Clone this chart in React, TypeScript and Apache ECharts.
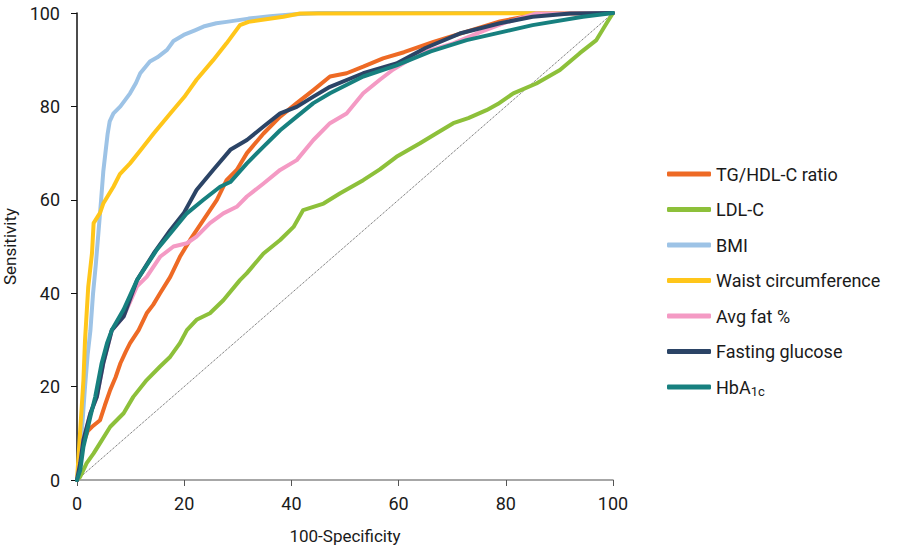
import React, { useEffect, useRef } from "react";
import * as echarts from "echarts";

// ROC curves: [100-Specificity, Sensitivity]
const tgHdl = [
  [0, 0], [0.6, 4], [1.2, 7.9], [2, 10.5], [2.8, 11.4], [4.3, 12.8], [5.2, 16], [6.2, 19.3], [7.2, 22],
  [8.1, 25], [9.1, 27.5], [9.9, 29.3], [11.5, 32.1], [13, 35.7], [14.2, 37.5], [15.5, 40], [17.4, 43.5],
  [19.2, 47.8], [21.1, 51.4], [23.6, 55.7], [26.1, 60], [27.9, 64.2], [29.8, 66.4], [31.7, 70],
  [34.8, 74.2], [37.9, 77.8], [41, 80.7], [44.1, 83.5], [47.2, 86.4], [50.3, 87.1], [53.4, 88.5],
  [57.1, 90.3], [61, 91.6], [66.5, 93.8], [72.7, 96], [78.9, 98.2], [85, 99.5], [90, 99.9], [100, 100],
];
const ldlC = [
  [0, 0], [0.6, 0.7], [1.8, 3.6], [3.1, 5.7], [4.3, 7.9], [6.2, 11.4], [8.7, 14.3], [10.5, 17.8],
  [13, 21.4], [15.5, 24.3], [17.4, 26.4], [19.2, 29.3], [20.5, 32.1], [22.3, 34.3], [24.8, 35.7],
  [27.3, 38.5], [30.4, 42.8], [31.7, 44.3], [34.8, 48.5], [37.9, 51.4], [40.4, 54.2], [42.2, 57.8],
  [46, 59.2], [49.1, 61.4], [53.4, 64.2], [56.5, 66.5], [59.6, 69.2], [64, 72.1], [67, 74.2],
  [70.2, 76.4], [73, 77.5], [76.4, 79.2], [78.5, 80.5], [81.4, 82.8], [85.7, 84.9], [90.1, 87.8],
  [93.8, 91.4], [96.9, 94.2], [98.8, 97.8], [100, 100],
];
const bmi = [
  [0, 0], [0.5, 5], [1, 12], [1.5, 20], [2, 27], [2.5, 32], [3, 40], [3.5, 46], [4, 53], [4.5, 60],
  [4.9, 66], [5.3, 70], [5.7, 74], [6.1, 76.8], [6.8, 78.5], [8.1, 80], [9.9, 82.8], [11, 85],
  [11.8, 87.1], [13.6, 89.6], [15, 90.5], [16.8, 92.1], [18, 94], [19.9, 95.3], [22, 96.3],
  [23.6, 97.1], [26, 97.8], [27.9, 98.1], [32, 98.8], [36, 99.3], [40, 99.7], [45, 100], [100, 100],
];
const waist = [
  [0, 0], [0.6, 10.7], [1.2, 21.4], [1.5, 30], [2.1, 41.4], [2.8, 48.6], [3.1, 55], [4.3, 57.2],
  [4.9, 59.2], [6.8, 62.8], [8, 65.5], [9.9, 67.8], [12, 70.8], [14.3, 74.2], [17.4, 78.5],
  [20, 82], [22.3, 85.7], [25.4, 89.9], [27.9, 93.5], [30.4, 97.4], [32, 98.1], [38.5, 99.2],
  [41.6, 99.9], [100, 100],
];
const avgFat = [
  [0, 0], [0.6, 3.6], [1.2, 8.6], [2.5, 14.3], [3.7, 17.8], [4.3, 21.4], [4.9, 25], [6.5, 32.1],
  [8.7, 35], [11.2, 41.5], [13, 43.5], [15.5, 47.8], [18, 50], [20.5, 50.7], [22.3, 52.1],
  [24.8, 55], [27.3, 57.1], [29.8, 58.5], [31.7, 60.7], [34.8, 63.5], [37.9, 66.4], [41, 68.5],
  [44.1, 72.8], [47.2, 76.4], [50.3, 78.5], [53.4, 82.8], [56.5, 85.7], [59, 87.9], [64, 91.4],
  [70.2, 93.5], [75, 95.8], [79.5, 97.8], [85.7, 99.9], [100, 100],
];
const fastingGlucose = [
  [0, 0], [0.6, 3.6], [1.2, 8.6], [2.5, 14.3], [3.7, 17.8], [4.9, 25], [6.5, 32.1], [8.7, 35],
  [11.2, 42.8], [14.3, 48.5], [17.4, 53.5], [19.9, 57.1], [22.3, 62.1], [25.4, 66.4], [28.6, 70.7],
  [31.7, 72.8], [34.8, 75.7], [37.9, 78.5], [41, 79.9], [44.1, 82.1], [47.2, 84.2], [53.4, 87.1],
  [59.6, 89.2], [65, 92.5], [71.4, 95.6], [78.9, 97.8], [85, 99.2], [92, 99.9], [100, 100],
];
const hba1c = [
  [0, 0], [0.6, 2.1], [1.2, 7.1], [2.5, 13.6], [3.4, 17.8], [4.6, 25], [5.6, 29.3], [6.5, 32.1],
  [8.7, 36.5], [11.2, 42.8], [14.9, 49.3], [17.4, 52.8], [20.5, 57.1], [23.6, 60], [26.7, 62.8],
  [28.6, 63.8], [31.7, 67.8], [34.8, 71.4], [37.9, 74.9], [41, 77.8], [44.1, 80.7], [47.2, 82.8],
  [53.4, 86.4], [59.6, 88.8], [66, 91.8], [72.7, 94.2], [85, 97.4], [94.4, 99.2], [100, 100],
];
const reference = [[0, 0], [100, 100]];

const seriesNames = [
  "TG/HDL-C ratio",
  "LDL-C",
  "BMI",
  "Waist circumference",
  "Avg fat %",
  "Fasting glucose",
  "HbA1c",
];
const seriesColors = ["#EE6A25", "#8DC03A", "#9DC3E6", "#FFC61A", "#F49AC4", "#2B4466", "#17807F"];
const seriesData = [tgHdl, ldlC, bmi, waist, avgFat, fastingGlucose, hba1c];

const FONT = "Roboto, 'Liberation Sans', sans-serif";
const TEXT = "#1a1a1a";

export default function App() {
  const ref = useRef<HTMLDivElement>(null);

  useEffect(() => {
    if (!ref.current) return;
    const chart = echarts.init(ref.current, undefined, { renderer: "svg" });

    const lines = seriesData.map((d, i) => ({
      name: seriesNames[i],
      type: "line",
      data: d,
      showSymbol: false,
      symbol: "none",
      smooth: false,
      z: 3 + i,
      lineStyle: { width: 4, color: seriesColors[i], cap: "round", join: "round" },
      itemStyle: { color: seriesColors[i] },
    }));

    chart.setOption({
      animation: false,
      backgroundColor: "#ffffff",
      grid: {
        left: 77,
        right: 285,
        top: 13,
        bottom: 70,
        containLabel: false,
        outerBoundsMode: "none",
      },
      legend: {
        orient: "vertical",
        left: 662,
        top: 159,
        itemWidth: 44,
        itemHeight: 5,
        itemGap: 15.5,
        icon: "roundRect",
        data: seriesNames,
        formatter: (n: string) => (n === "HbA1c" ? "HbA{sub|1c}" : n),
        textStyle: {
          fontFamily: FONT,
          fontSize: 18,
          color: TEXT,
          lineHeight: 20,
          rich: {
            sub: { fontFamily: FONT, fontSize: 13, color: TEXT, padding: [8, 0, 0, 0] },
          },
        },
      },
      xAxis: {
        type: "value",
        min: 0,
        max: 100,
        interval: 20,
        name: "100-Specificity",
        nameLocation: "middle",
        nameGap: 47,
        nameTextStyle: { fontFamily: FONT, fontSize: 17, color: TEXT },
        axisLine: { show: true, lineStyle: { color: "#8a8a8a", width: 1.5 } },
        axisTick: { show: true, length: 6, lineStyle: { color: "#555" } },
        axisLabel: { fontFamily: FONT, fontSize: 18, color: TEXT, margin: 14 },
        splitLine: { show: false },
      },
      yAxis: {
        type: "value",
        min: 0,
        max: 100,
        interval: 20,
        name: "Sensitivity",
        nameLocation: "middle",
        nameGap: 58,
        nameTextStyle: { fontFamily: FONT, fontSize: 17, color: TEXT },
        axisLine: { show: true, lineStyle: { color: "#111", width: 1.5 } },
        axisTick: { show: true, length: 6, lineStyle: { color: "#111" } },
        axisLabel: { fontFamily: FONT, fontSize: 18, color: TEXT, margin: 17 },
        splitLine: { show: false },
      },
      series: [
        {
          name: "reference",
          type: "line",
          data: reference,
          showSymbol: false,
          symbol: "none",
          z: 2,
          silent: true,
          lineStyle: { width: 1, color: "#555", type: "dotted" },
        },
        ...lines,
      ],
    });

    return () => chart.dispose();
  }, []);

  return (
    <div
      ref={ref}
      style={{ position: "absolute", left: 0, top: 0, width: 898, height: 550 }}
    />
  );
}
